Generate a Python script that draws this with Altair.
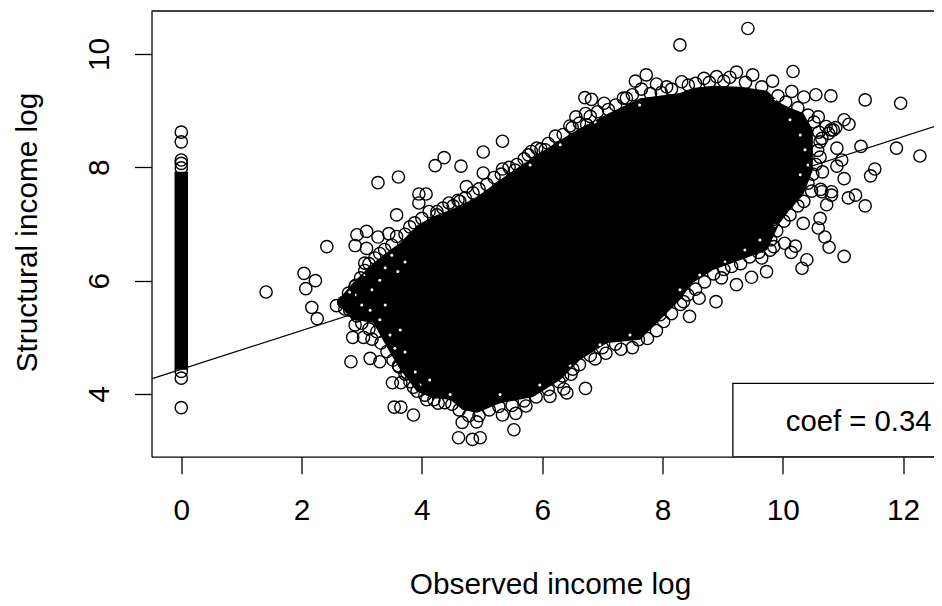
import altair as alt
import pandas as pd

# open circles (observed log, structural log)
obs_x = [1.41,2.07,2.23,2.04,2.42,2.89,2.92,3.08,3.27,3.45,3.08,3.05,3.58,3.27,3.61,4.22,3.95,4.07,3.95,4.25,
         2.89,2.17,2.26,2.58,2.89,2.85,3.03,3.17,2.82,3.14,3.30,3.61,3.51,3.65,3.86,3.54,3.65,3.86,4.08,4.27,
         3.75,4.67,4.91,4.61,4.84,4.97,5.53,5.34,5.56,5.73,6.13,6.41,6.36,6.72,6.51,6.34,6.88,7.06,7.31,7.60,
         7.96,8.45,8.35,8.89,8.61,9.23,8.98,9.48,9.73,9.65,9.79,10.14,10.21,10.32,10.40,10.77,11.02,10.70,10.59,10.03,
         10.34,10.62,10.73,11.09,11.21,11.37,10.81,10.65,9.42,8.29,10.17,10.80,11.37,11.96,10.55,11.02,11.10,10.59,10.84,10.65,
         10.90,11.30,11.89,12.28,10.98,10.90,11.53,11.46,11.02,10.66,10.81,10.63,8.69,8.90,9.23,9.50,9.83,10.15,10.35,9.12,
         8.32,4.37,4.65,5.02,5.34,5.02,5.34,4.74,4.45,4.63,5.55,5.91,6.05,5.77,6.46,6.56,6.71,6.82,6.72,6.74,
         7.03,7.35,7.55,7.73,7.90,7.65,8.07,8.43,
         0,0,0,0,0,0,0,0]
str_y = [5.80,5.86,6.00,6.13,6.60,6.62,6.81,6.87,6.77,6.83,6.57,6.31,7.16,7.73,7.83,8.03,7.53,7.53,7.37,7.16,
         5.90,5.53,5.33,5.56,5.22,5.00,5.00,4.97,4.57,4.63,4.57,4.50,4.20,4.20,4.12,3.77,3.77,3.63,3.90,3.84,
         4.37,3.50,3.51,3.23,3.20,3.23,3.37,3.63,3.66,3.79,3.96,4.02,4.09,4.10,4.44,4.32,4.62,4.72,4.79,4.96,
         5.40,5.37,5.63,5.63,5.69,5.93,6.05,6.06,6.16,6.40,6.54,6.50,6.61,6.22,6.37,6.59,6.43,6.77,6.93,6.66,
         7.01,7.10,7.34,7.46,7.51,7.32,7.51,7.57,10.45,10.16,9.69,9.26,9.19,9.13,9.28,8.84,8.76,8.89,8.66,8.51,
         8.34,8.37,8.34,8.20,8.13,8.02,7.97,7.85,7.80,7.92,7.57,7.61,9.57,9.60,9.68,9.63,9.52,9.34,9.24,9.59,
         9.51,8.17,8.02,8.27,8.46,7.90,7.97,7.66,7.37,7.40,7.95,8.34,8.31,8.22,8.73,8.89,9.23,9.20,8.95,8.75,
         9.13,9.22,9.52,9.63,9.47,9.38,9.42,9.45,
         8.62,8.45,8.13,8.07,7.99,4.40,4.28,3.76]

# circles crowding the edge of the solid mass
edge_x = [2.70,2.78,2.90,2.98,3.05,3.12,3.22,3.30,3.38,3.50,3.58,3.72,3.80,3.88,4.00,4.12,4.25,4.35,4.52,4.60,4.72,4.85,4.95,5.08,5.20,5.32,5.45,5.58,5.70,5.82,5.98,6.10,6.22,6.35,6.50,6.62,6.80,6.92,7.10,7.22,7.40,7.50,7.80,7.98,8.15,8.55,8.78,9.02,9.38,9.65,9.92,10.05,10.25,10.42,10.52,10.60,10.62,10.72,10.80,10.88,10.76,10.58,10.62,10.55,10.50,10.42,10.48,10.35,10.25,10.12,10.02,9.90,9.80,9.85,9.60,9.45,9.30,9.15,9.02,8.85,8.70,8.55,8.42,8.30,8.15,8.02,7.90,7.75,7.50,7.22,7.00,6.80,6.62,6.48,6.28,6.10,5.90,5.70,5.50,5.28,5.12,4.95,4.78,4.62,4.50,4.38,4.20,4.05,3.92,3.80,3.72,3.62,3.52,3.42,3.32,3.25,3.12,3.00,2.92,2.80,2.72]
edge_y = [5.62,5.78,5.92,6.05,6.18,6.30,6.40,6.48,6.55,6.63,6.78,6.82,6.95,7.02,7.10,7.22,7.22,7.28,7.32,7.42,7.46,7.55,7.62,7.70,7.82,7.88,8.00,8.05,8.15,8.28,8.32,8.42,8.55,8.58,8.70,8.78,8.90,8.98,9.02,9.10,9.22,9.28,9.30,9.32,9.38,9.48,9.50,9.52,9.50,9.42,9.26,9.15,9.05,8.92,8.80,8.62,8.45,8.72,8.66,8.70,8.60,8.30,8.18,8.05,7.88,7.72,7.58,7.40,7.32,7.16,7.05,6.88,6.72,6.60,6.50,6.42,6.30,6.25,6.20,6.12,5.98,5.85,5.75,5.58,5.42,5.28,5.12,4.98,4.82,4.88,4.82,4.68,4.52,4.35,4.22,4.08,3.95,3.88,3.80,3.78,3.72,3.62,3.62,3.72,3.82,3.85,3.90,3.98,4.05,4.22,4.35,4.48,4.60,4.75,4.90,5.10,5.15,5.25,5.38,5.48,5.50]

# white gaps left between circles just inside the edge
gap_x = [3.22,3.39,3.50,3.60,3.72,3.30,3.05,3.17,2.89,3.00,2.80,3.14,3.30,3.47,3.55,3.72,3.39,3.64,3.89,3.97,4.13,4.13,4.38,5.13,5.46,5.80,6.30,6.88,7.62,4.47,5.30,5.96,6.46,6.96,7.46,8.29,8.62,9.04,9.37,9.62,9.87,10.12,10.29,9.79,10.29,10.37,10.42,10.29,10.12,9.87]
gap_y = [6.40,6.23,6.45,6.16,6.33,6.01,6.10,5.84,5.75,5.57,5.80,5.48,5.31,5.04,4.81,4.74,5.57,5.13,4.39,4.16,4.25,7.25,7.34,7.69,7.95,8.04,8.40,8.80,9.10,3.99,3.99,4.16,4.51,4.87,5.04,5.84,6.10,6.33,6.54,6.72,6.98,7.21,7.43,6.63,8.57,8.31,8.04,7.87,8.84,9.19]

# the solid mass of overlapping circles
band_x  = [2.59,2.72,2.85,3.19,3.47,3.64,3.92,4.18,4.47,4.68,4.92,5.30,5.85,6.30,6.63,7.08,7.63,8.29,8.50,8.84,9.29,9.74,9.95,10.12,10.34,10.50]
band_hi = [5.63,5.80,5.96,6.31,6.54,6.67,6.98,7.13,7.25,7.35,7.48,7.78,8.18,8.48,8.69,8.94,9.22,9.31,9.40,9.44,9.42,9.35,9.14,9.05,8.96,8.66]
band_lo = [5.61,5.45,5.31,5.26,4.73,4.43,4.04,3.93,3.90,3.72,3.67,3.84,3.95,4.25,4.60,4.90,4.96,5.66,5.96,6.19,6.36,6.54,7.02,7.25,7.51,7.95]

# the solid column at zero income
strip_lo, strip_hi = 4.43, 7.92

# fitted line
fit_x = [-0.495, 12.647]
fit_y = [4.268, 8.765]

x_ticks = [0, 2, 4, 6, 8, 10, 12]
y_ticks = [4, 6, 8, 10]
x_dom = [-0.495, 12.514]
y_dom = [2.895, 10.758]

FONT = "Liberation Sans"
FS = 29.8
x_s = alt.Scale(domain=x_dom, nice=False, zero=False)
y_s = alt.Scale(domain=y_dom, nice=False, zero=False)

pts = pd.DataFrame({"x": obs_x + edge_x, "y": str_y + edge_y})
gaps = pd.DataFrame({"x": gap_x, "y": gap_y})
band = pd.DataFrame({"x": band_x, "y": band_lo, "y2": band_hi})
fit = pd.DataFrame({"x": fit_x, "y": fit_y})

base_x = alt.X("x:Q", scale=x_s, axis=alt.Axis(
    values=x_ticks, title="Observed income log", grid=False, domainColor="black", domainWidth=1.3,
    tickColor="black", tickWidth=1.3, tickSize=17, labelFont=FONT, labelFontSize=FS, labelColor="black",
    labelPadding=22, labelFlush=False, labelOverlap=False, titleFont=FONT, titleFontSize=FS, titleFontWeight="normal",
    titleColor="black", titleX=398.5, titleY=137, titleBaseline="alphabetic", format="d"))
base_y = alt.Y("y:Q", scale=y_s, axis=alt.Axis(
    values=y_ticks, title="Structural income log", grid=False, domainColor="black", domainWidth=1.3,
    tickColor="black", tickWidth=1.3, tickSize=17, labelFont=FONT, labelFontSize=FS, labelColor="black",
    labelAngle=270, labelAlign="center", labelBaseline="alphabetic", labelPadding=26, labelFlush=False, labelOverlap=False,
    titleFont=FONT, titleFontSize=FS, titleFontWeight="normal", titleColor="black",
    titleX=-115, titleY=221, titleBaseline="alphabetic", format="d"))

line = alt.Chart(fit).mark_line(color="black", strokeWidth=1.2, clip=True).encode(x=base_x, y=base_y)
area = alt.Chart(band).mark_area(color="black", opacity=1, clip=True).encode(x=base_x, y=base_y, y2="y2:Q")
strip = alt.Chart(pd.DataFrame({"x": [0], "y": [strip_lo], "y2": [strip_hi]})).mark_rule(
    color="black", strokeWidth=13.5).encode(x=base_x, y=base_y, y2="y2:Q")
holes = alt.Chart(gaps).mark_point(shape="circle", filled=True, color="white", size=9, opacity=1).encode(x=base_x, y=base_y)
points = alt.Chart(pts).mark_point(shape="circle", filled=False, color="black", strokeWidth=1.4, size=150, opacity=1, clip=True).encode(
    x=base_x, y=base_y)
top = alt.Chart(pd.DataFrame({"a": [0]})).mark_rule(color="black", strokeWidth=1.3).encode(
    x=alt.value(0), x2=alt.value(782.5), y=alt.value(0))
box = alt.Chart(pd.DataFrame({"x": [9.17], "x2": [13], "y": [4.19], "y2": [2.895]})).mark_rect(
    fill="white", stroke="black", strokeWidth=1.3, clip=True).encode(x=base_x, x2="x2:Q", y=base_y, y2="y2:Q")
label = alt.Chart(pd.DataFrame({"x": [10.05], "y": [3.51], "t": ["coef = 0.34"]})).mark_text(
    font=FONT, fontSize=29.3, color="black", align="left", baseline="middle").encode(x=base_x, y=base_y, text="t:N")

chart = alt.layer(line, area, strip, holes, points, top, box, label).properties(
    width=782.5, height=445.7,
    padding={"left": 143.5, "top": 3, "right": 0, "bottom": 147},
    autosize=alt.AutoSizeParams(type="none"),
).configure_view(stroke=None)
chart.save("out.html", embed_options={"renderer": "svg", "actions": False})
